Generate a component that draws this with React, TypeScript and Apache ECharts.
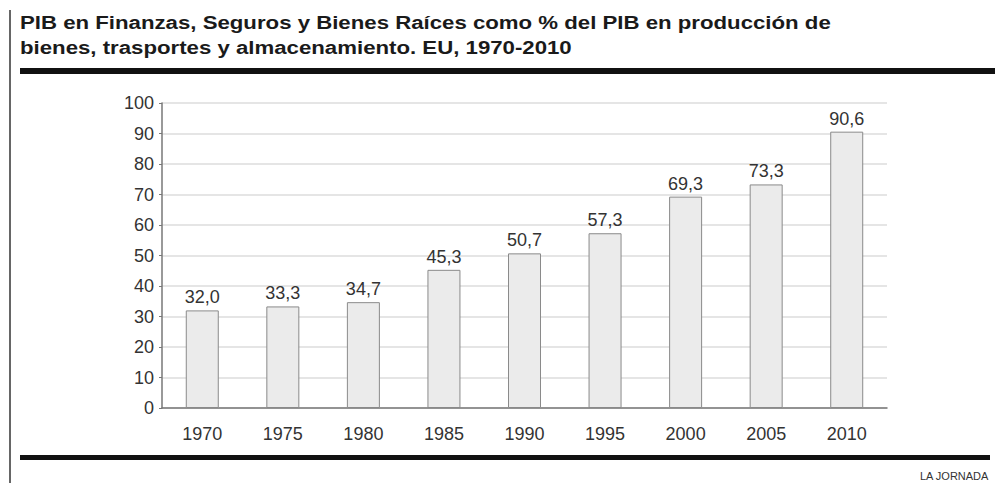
import React, { useEffect, useRef } from "react";
import * as echarts from "echarts";

const years = ["1970", "1975", "1980", "1985", "1990", "1995", "2000", "2005", "2010"];
const values = [32.0, 33.3, 34.7, 45.3, 50.7, 57.3, 69.3, 73.3, 90.6];
const titleLines = [
  "PIB en Finanzas, Seguros y Bienes Raíces como % del PIB en producción de",
  "bienes, trasportes y almacenamiento. EU, 1970-2010",
];
const source = "LA JORNADA";

const font = "'Liberation Sans', Arial, sans-serif";

export default function App() {
  const ref = useRef<HTMLDivElement>(null);
  useEffect(() => {
    if (!ref.current) return;
    const chart = echarts.init(ref.current, null, { renderer: "svg" });
    chart.setOption({
      animation: false,
      backgroundColor: "#ffffff",
      grid: { left: 162, right: 108, top: 103, bottom: 75 },
      xAxis: {
        type: "category",
        data: years,
        axisLine: { lineStyle: { color: "#777", width: 1.5 } },
        axisTick: { show: false },
        axisLabel: { color: "#333", fontSize: 18, fontFamily: font, margin: 17 },
      },
      yAxis: {
        type: "value",
        min: 0,
        max: 100,
        interval: 10,
        axisLine: { show: true, lineStyle: { color: "#777", width: 1.5 } },
        axisTick: { show: true, length: 3, lineStyle: { color: "#777" } },
        axisLabel: { color: "#333", fontSize: 18, fontFamily: font, margin: 8 },
        splitLine: { lineStyle: { color: "#dcdcdc", width: 1.5 } },
      },
      series: [
        {
          type: "bar",
          data: values,
          barWidth: 33,
          itemStyle: { color: "#ebebeb", borderColor: "#8a8a8a", borderWidth: 1 },
          label: {
            show: true,
            position: "top",
            distance: 4,
            color: "#333",
            fontSize: 18,
            fontFamily: font,
            formatter: (p: any) => Number(p.value).toFixed(1).replace(".", ","),
          },
        },
      ],
      graphic: [
        { type: "line", shape: { x1: 10, y1: 10, x2: 10, y2: 483 }, style: { stroke: "#333", lineWidth: 1.5 } },
        {
          type: "text",
          x: 20,
          y: 10,
          scaleX: 1.17,
          style: {
            text: titleLines.join("\n"),
            font: "bold 19px " + font,
            fill: "#1a1a1a",
            lineHeight: 25,
          },
        },
        { type: "rect", shape: { x: 20, y: 68, width: 975, height: 6 }, style: { fill: "#111" } },
        { type: "rect", shape: { x: 20, y: 455, width: 970, height: 5 }, style: { fill: "#111" } },
        {
          type: "text",
          right: 6,
          top: 470,
          style: {
            text: source,
            font: "11px " + font,
            fill: "#333",
          },
        },
      ],
    });
    return () => chart.dispose();
  }, []);
  return <div ref={ref} style={{ position: "fixed", left: 0, top: 0, width: 995, height: 483 }} />;
}
